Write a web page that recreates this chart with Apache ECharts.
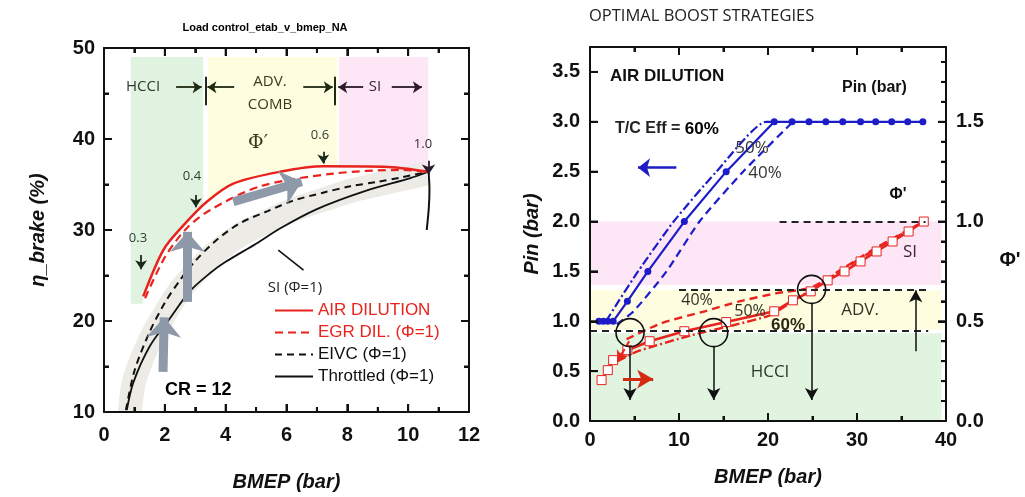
<!DOCTYPE html>
<html><head><meta charset="utf-8">
<script src="https://cdn.jsdelivr.net/npm/echarts@6/dist/echarts.min.js"></script>
<style>html,body{margin:0;padding:0;background:#fff}#c{width:1025px;height:497px}</style>
</head><body><div id="c"></div>
<script>
// ---------------- Left panel: brake efficiency vs BMEP ----------------
const airDilX = [1.29, 1.95, 2.61, 3.38, 4.25, 5.79, 7.21, 9.2, 10.67];
const airDilY = [22.7, 27.8, 30.5, 33.1, 35.1, 36.4, 37.0, 36.95, 36.4];
const egrX = [1.35, 2.0, 2.72, 3.49, 5.13, 7.54, 9.74, 10.67];
const egrY = [22.5, 27.0, 30.2, 32.2, 34.8, 36.2, 36.6, 36.4];
const eivcX = [0.72, 1.0, 1.5, 2.0, 2.5, 3.0, 3.7, 4.5, 5.4, 6.2, 7.2, 8.1, 9.0, 9.8, 10.67];
const eivcY = [10.2, 14.5, 18.8, 22.0, 24.5, 26.6, 28.9, 30.8, 32.1, 33.2, 34.1, 34.8, 35.3, 35.8, 36.4];
const thrX = [0.75, 0.96, 1.5, 2.17, 2.83, 3.5, 4.0, 5.0, 5.8, 7.0, 8.6, 10.07, 10.67];
const thrY = [10.2, 13.2, 17.2, 20.3, 23.3, 25.3, 26.5, 28.5, 30.2, 32.3, 34.3, 35.7, 36.4];
const siX = [10.67, 10.7, 10.68, 10.61];
const siY = [36.4, 34.5, 32.5, 30.0];
const bandX = [0.85, 1.0, 1.5, 2.0, 2.5, 3.0, 3.7, 4.5, 5.4, 6.2, 7.2, 8.1, 9.0, 9.8, 10.6];
const bandY = [10.0, 13.5, 17.8, 20.8, 23.4, 25.3, 27.6, 29.5, 31.0, 32.2, 33.3, 34.3, 35.0, 35.6, 36.2];
const leftLegend = ['AIR DILUTION', 'EGR DIL. (Φ=1)', 'EIVC (Φ=1)', 'Throttled (Φ=1)'];
const leftXTicks = [0, 12, 2];   // min, max, interval
const leftYTicks = [10, 50, 10];

// ---------------- Right panel: optimal boost strategies ----------------
const pinX60 = [1.0, 1.5, 2.0, 2.6, 4.2, 6.5, 10.6, 15.3, 20.7, 22.7, 24.6, 26.5, 28.4, 30.4, 32.1, 33.9, 35.7, 37.4];
const pin60  = [1.0, 1.0, 1.0, 1.0, 1.2, 1.5, 2.0, 2.5, 3.0, 3.0, 3.0, 3.0, 3.0, 3.0, 3.0, 3.0, 3.0, 3.0];
const pinX50 = [1.8, 3.2, 5.4, 9.4, 14.2, 19.8, 20.7];
const pin50  = [1.0, 1.2, 1.5, 2.0, 2.5, 3.0, 3.0];
const pinX40 = [3.0, 4.9, 8.6, 12.3, 17.2, 22.8];
const pin40  = [0.97, 1.1, 1.5, 2.0, 2.5, 3.0];
const phiX60 = [1.3, 2.0, 2.6, 4.2, 6.7, 10.6, 15.3, 20.7, 22.8, 24.8, 26.7, 28.6, 30.4, 32.2, 34.0, 35.8, 37.5];
const phi60  = [0.205, 0.255, 0.305, 0.355, 0.40, 0.45, 0.496, 0.55, 0.605, 0.65, 0.705, 0.75, 0.80, 0.85, 0.90, 0.95, 1.0];
const phiX50 = [3.1, 5.4, 11.4, 16.1, 20.2, 22.8, 24.9, 28.6, 32.2, 37.5];
const phi50  = [0.30, 0.35, 0.43, 0.48, 0.53, 0.60, 0.66, 0.765, 0.865, 1.0];
const phiX40 = [4.1, 8.0, 12.9, 16.8, 20.9, 24.9, 28.6, 32.2, 37.5];
const phi40  = [0.41, 0.49, 0.55, 0.60, 0.64, 0.67, 0.77, 0.87, 1.0];
const rightXTicks = [0, 40, 10];
const pinTicks = [0, 3.75, 0.5];
const phiTicks = [0, 1.875, 0.5];

const zip = (xs, ys) => xs.map((x, i) => [x, ys[i]]);
const RED = '#e8231e', BLUE = '#1c1cc8', GRAY_ARROW = '#8e99a9', INK = '#111';
const FONT = 'Liberation Sans';
const oneDec = v => v.toFixed(1);

function seg(x1, y1, x2, y2, color, width, type, head, headSize) {
  const ls = {color: color, width: width, type: type || 'solid'};
  return [{coord: [x1, y1], symbol: 'none', lineStyle: ls},
          {coord: [x2, y2], symbol: head ? 'arrow' : 'none', symbolSize: headSize || 10, lineStyle: Object.assign({}, ls)}];
}
function labelStyle(margin, showLabel, fmt) {
  const o = {show: showLabel, color: INK, fontFamily: FONT, fontWeight: 'bold', fontSize: 20, margin: margin};
  if (fmt) { o.formatter = fmt; o.showMaxLabel = false; }
  return o;
}
function axis(gridIndex, position, range, opts) {
  opts = opts || {};
  const a = {
    type: 'value', z: 20, gridIndex: gridIndex, position: position,
    min: range[0], max: range[1], interval: range[2],
    axisLine: {show: true, onZero: false, lineStyle: {color: INK, width: 2}},
    axisTick: {show: true, inside: true, length: 8, lineStyle: {color: INK, width: 2}},
    minorTick: {show: opts.minor !== 0, splitNumber: opts.minor || 2, length: 5, lineStyle: {color: INK, width: 2}},
    splitLine: {show: false}, minorSplitLine: {show: false},
    axisLabel: labelStyle(opts.margin || 10, !!opts.label, opts.fmt)
  };
  if (opts.name) {
    a.name = opts.name; a.nameLocation = 'middle'; a.nameGap = opts.nameGap;
    a.nameTextStyle = {color: INK, fontFamily: FONT, fontWeight: 'bold', fontStyle: 'italic', fontSize: 20};
  }
  return a;
}

// tick marks along the frame (dir 0 = along x, 1 = along y; side 1 = first, 2 = second, 3 = both)
function tickItems(dir, min, max, step, majorEvery, side) {
  const out = [];
  for (let k = 0; min + k * step <= max + 1e-9; k++) {
    const v = Math.round((min + k * step) * 1000) / 1000;
    out.push([dir, v, k % majorEvery === 0 ? 8 : 5, side]);
  }
  return out;
}
function tickSeries(xi, yi, xr, yr, items) {
  return {
    type: 'custom', xAxisIndex: xi, yAxisIndex: yi, silent: true, z: 30, clip: false,
    data: items,
    renderItem: function (params, api) {
      const dir = api.value(0), v = api.value(1), len = api.value(2), side = api.value(3);
      const ch = [];
      const st = {stroke: INK, lineWidth: 2};
      if (dir === 0) {
        const b = api.coord([v, yr[0]]), t = api.coord([v, yr[1]]);
        if (side & 1) ch.push({type: 'line', shape: {x1: b[0], y1: b[1], x2: b[0], y2: b[1] - len}, style: st});
        if (side & 2) ch.push({type: 'line', shape: {x1: t[0], y1: t[1], x2: t[0], y2: t[1] + len}, style: st});
      } else {
        const l = api.coord([xr[0], v]), r = api.coord([xr[1], v]);
        if (side & 1) ch.push({type: 'line', shape: {x1: l[0], y1: l[1], x2: l[0] + len, y2: l[1]}, style: st});
        if (side & 2) ch.push({type: 'line', shape: {x1: r[0], y1: r[1], x2: r[0] - len, y2: r[1]}, style: st});
      }
      return {type: 'group', children: ch};
    }
  };
}

function txt(x, y, text, size, opts) {
  opts = opts || {};
  return {
    type: 'text', x: x, y: y, z: 100, silent: true,
    style: {
      text: text, fontSize: size, fontFamily: opts.family || 'Open Sans',
      fontWeight: opts.weight || 'normal', fill: opts.color || '#222',
      align: opts.align || 'center', textAlign: opts.align || 'center',
      verticalAlign: 'middle', textVerticalAlign: 'middle'
    }
  };
}

const option = {
  animation: false,
  backgroundColor: '#fff',
  grid: [
    {left: 104, right: 556, top: 48, bottom: 85},
    {left: 590, right: 79, top: 47, bottom: 76}
  ],
  xAxis: [
    axis(0, 'bottom', leftXTicks, {label: true, margin: 13, name: 'BMEP (bar)', nameGap: 60}),
    axis(0, 'top', leftXTicks, {}),
    axis(1, 'bottom', rightXTicks, {label: true, margin: 9, name: 'BMEP (bar)', nameGap: 46}),
    axis(1, 'top', rightXTicks, {})
  ],
  yAxis: [
    axis(0, 'left', leftYTicks, {label: true, margin: 9, name: 'η_brake (%)', nameGap: 56}),
    axis(0, 'right', leftYTicks, {}),
    axis(1, 'left', pinTicks, {label: true, minor: 0, fmt: oneDec, name: 'Pin (bar)', nameGap: 48}),
    axis(1, 'right', phiTicks, {label: true, minor: 5, fmt: oneDec})
  ],
  legend: {
    data: [
      {name: leftLegend[0], textStyle: {color: RED}},
      {name: leftLegend[1], textStyle: {color: RED}},
      {name: leftLegend[2], textStyle: {color: INK}},
      {name: leftLegend[3], textStyle: {color: INK}}
    ],
    orient: 'vertical', left: 274, top: 302, itemWidth: 38, itemHeight: 12, itemGap: 5,
    selectedMode: false, padding: 0,
    itemStyle: {opacity: 0},
    textStyle: {fontFamily: FONT, fontSize: 17}
  },
  graphic: [
    txt(265, 28, 'Load control_etab_v_bmep_NA', 11, {family: FONT, weight: 'bold', color: '#000'}),
    txt(143, 87, 'HCCI', 15, {color: '#2c3a2c'}),
    txt(270, 82, 'ADV.', 15, {color: '#3a3a22'}),
    txt(270, 105, 'COMB', 15, {color: '#3a3a22'}),
    txt(375, 87, 'SI', 15, {color: '#3a263a'}),
    txt(258, 143, 'Φ′', 19, {family: 'DejaVu Serif', color: '#3a3a22'}),
    txt(320, 135, '0.6', 13, {color: '#2f3f2f'}),
    txt(423, 144, '1.0', 13, {color: '#3a2a3a'}),
    txt(192, 176, '0.4', 13, {color: '#2f3f2f'}),
    txt(138, 238, '0.3', 13, {color: '#2f3f2f'}),
    txt(295, 288, 'SI (Φ=1)', 15, {color: '#222'}),
    txt(165, 390, 'CR = 12', 18, {family: FONT, weight: 'bold', align: 'left', color: '#000'}),
    txt(589, 16, 'OPTIMAL BOOST STRATEGIES', 16.5, {align: 'left', color: '#222'}),
    txt(610, 76, 'AIR DILUTION', 17, {family: FONT, weight: 'bold', align: 'left', color: '#111'}),
    txt(842, 88, 'Pin (bar)', 16, {family: FONT, weight: 'bold', align: 'left', color: '#111'}),
    {type: 'text', x: 615, y: 129, z: 100, silent: true,
     style: {text: '{a|T/C Eff = }{b|60%}', align: 'left', textAlign: 'left', verticalAlign: 'middle', textVerticalAlign: 'middle',
       rich: {a: {fontFamily: FONT, fontWeight: 'bold', fontSize: 16, fill: '#222', color: '#222'},
              b: {fontFamily: FONT, fontWeight: 'bold', fontSize: 17, fill: '#000', color: '#000'}}}},
    txt(752, 148, '50%', 17, {color: '#333'}),
    txt(765, 173, '40%', 17, {color: '#333'}),
    txt(898, 195, "Φ'", 16, {family: FONT, weight: 'bold', color: '#111'}),
    txt(910, 252, 'SI', 17, {color: '#3a263a'}),
    txt(860, 310, 'ADV.', 17, {color: '#333322'}),
    txt(770, 372, 'HCCI', 17, {color: '#2c3a2c'}),
    txt(697, 300, '40%', 16, {color: '#333322'}),
    txt(750, 311, '50%', 16, {color: '#333322'}),
    txt(788, 325, '60%', 17, {family: FONT, weight: 'bold', color: '#2a2a14'}),
    txt(1010, 260, "Φ'", 20, {family: FONT, weight: 'bold', color: '#111'})
  ],
  series: [
    // ---- left panel ----
    {name: 'zonesL', type: 'line', xAxisIndex: 0, yAxisIndex: 0, data: [[0, 10]], symbol: 'none',
     lineStyle: {opacity: 0}, silent: true,
     markArea: {silent: true, label: {show: false}, data: [
       [{xAxis: 0.88, yAxis: 21.9, itemStyle: {color: '#dff3e0'}}, {xAxis: 3.26, yAxis: 49}],
       [{xAxis: 3.42, yAxis: 10, itemStyle: {color: '#fefde0'}}, {xAxis: 7.67, yAxis: 49}],
       [{xAxis: 7.73, yAxis: 10, itemStyle: {color: '#fde6f6'}}, {xAxis: 10.66, yAxis: 49}]
     ]}},
    {name: 'mask', type: 'line', xAxisIndex: 0, yAxisIndex: 0, data: zip(airDilX, airDilY), smooth: 0.3,
     symbol: 'none', lineStyle: {width: 0}, areaStyle: {color: '#fff', opacity: 1, origin: 'start'}, silent: true},
    {name: 'spread', type: 'line', xAxisIndex: 0, yAxisIndex: 0, data: zip(bandX, bandY), smooth: 0.3,
     symbol: 'none', lineStyle: {color: '#ecebe5', width: 24, cap: 'butt'}, silent: true},
    {name: leftLegend[3], type: 'line', xAxisIndex: 0, yAxisIndex: 0, data: zip(thrX, thrY), smooth: 0.3,
     symbol: 'none', color: INK, lineStyle: {color: INK, width: 1.8}},
    {name: leftLegend[2], type: 'line', xAxisIndex: 0, yAxisIndex: 0, data: zip(eivcX, eivcY), smooth: 0.3,
     symbol: 'none', color: INK, lineStyle: {color: INK, width: 2, type: [7, 5]}},
    {name: leftLegend[1], type: 'line', xAxisIndex: 0, yAxisIndex: 0, data: zip(egrX, egrY), smooth: 0.3,
     symbol: 'none', color: RED, lineStyle: {color: RED, width: 2.2, type: [8, 5]}},
    {name: leftLegend[0], type: 'line', xAxisIndex: 0, yAxisIndex: 0, data: zip(airDilX, airDilY), smooth: 0.3,
     symbol: 'none', color: RED, lineStyle: {color: RED, width: 2.5}},
    {name: 'siEnd', type: 'line', xAxisIndex: 0, yAxisIndex: 0, data: zip(siX, siY), smooth: 0.3,
     symbol: 'none', lineStyle: {color: INK, width: 2}, silent: true},
    {name: 'notesL', type: 'line', xAxisIndex: 0, yAxisIndex: 0, data: [[0, 10]], symbol: 'none',
     lineStyle: {opacity: 0}, silent: true,
     markLine: {silent: true, animation: false, label: {show: false}, symbol: ['none', 'none'], data: [
       seg(1.94, 14.4, 1.98, 20.4, GRAY_ARROW, 9, 'solid', true, [26, 20]),
       seg(2.74, 22.1, 2.74, 29.8, GRAY_ARROW, 9, 'solid', true, [26, 20]),
       seg(4.25, 33.1, 6.5, 35.3, GRAY_ARROW, 9, 'solid', true, [26, 20]),
       seg(2.37, 45.7, 3.21, 45.7, '#1f2a12', 1.8, 'solid', true, 9),
       seg(3.33, 46.85, 3.33, 43.7, '#1f2a12', 2, 'solid', false),
       seg(4.28, 45.7, 3.40, 45.7, '#1f2a12', 1.8, 'solid', true, 9),
       seg(6.55, 45.7, 7.52, 45.7, '#1f2a12', 1.8, 'solid', true, 9),
       seg(7.6, 46.85, 7.6, 43.7, '#1f2a12', 2, 'solid', false),
       seg(8.52, 45.7, 7.70, 45.7, '#2a1a2a', 1.8, 'solid', true, 9),
       seg(9.46, 45.7, 10.45, 45.7, '#2a1a2a', 1.8, 'solid', true, 9),
       seg(1.22, 27.25, 1.22, 25.7, '#1a2a1a', 1.8, 'solid', true, 9),
       seg(3.02, 33.85, 3.02, 32.5, '#1a2a1a', 1.8, 'solid', true, 9),
       seg(7.21, 38.6, 7.21, 37.3, '#1a2a1a', 1.8, 'solid', true, 9),
       seg(10.67, 37.6, 10.67, 36.1, '#2a1a2a', 1.8, 'solid', true, 10),
       seg(5.73, 27.8, 6.56, 25.6, INK, 1.6, 'solid', false)
     ]}},
    tickSeries(0, 0, leftXTicks, leftYTicks,
      tickItems(0, leftXTicks[0], leftXTicks[1], leftXTicks[2] / 2, 2, 3)
        .concat(tickItems(1, leftYTicks[0], leftYTicks[1], leftYTicks[2] / 2, 2, 3))),
    // ---- right panel ----
    {name: 'zonesR', type: 'line', xAxisIndex: 2, yAxisIndex: 2, data: [[0, 0]], symbol: 'none',
     lineStyle: {opacity: 0}, silent: true,
     markArea: {silent: true, label: {show: false}, data: [
       [{xAxis: 0, yAxis: 1.364, itemStyle: {color: '#fde6f6'}}, {xAxis: 39.5, yAxis: 2.0}],
       [{xAxis: 0, yAxis: 0.917, itemStyle: {color: '#fefde0'}}, {xAxis: 39.5, yAxis: 1.314}],
       [{xAxis: 0, yAxis: 0, itemStyle: {color: '#e0f4e0'}}, {xAxis: 39.5, yAxis: 0.88}]
     ]}},
    {name: 'Pin 40%', type: 'line', xAxisIndex: 2, yAxisIndex: 2, data: zip(pinX40, pin40), smooth: 0.2,
     symbol: 'none', lineStyle: {color: BLUE, width: 2.2, type: [8, 5]}},
    {name: 'Pin 50%', type: 'line', xAxisIndex: 2, yAxisIndex: 2, data: zip(pinX50, pin50), smooth: 0.2,
     symbol: 'none', lineStyle: {color: BLUE, width: 2.2, type: [9, 3, 2, 3]}},
    {name: 'Pin 60%', type: 'line', xAxisIndex: 2, yAxisIndex: 2, data: zip(pinX60, pin60), smooth: false,
     symbol: 'circle', symbolSize: 7, itemStyle: {color: BLUE}, lineStyle: {color: BLUE, width: 2.2},
     markLine: {silent: true, label: {show: false}, data: [seg(9.7, 2.54, 5.4, 2.54, BLUE, 2.5, 'solid', true, [14, 12])]}},
    {name: 'Phi 40%', type: 'line', xAxisIndex: 2, yAxisIndex: 3, data: zip(phiX40, phi40), smooth: 0.2,
     symbol: 'none', lineStyle: {color: RED, width: 2.4, type: [8, 5]}},
    {name: 'Phi 50%', type: 'line', xAxisIndex: 2, yAxisIndex: 3, data: zip(phiX50, phi50), smooth: 0.2,
     symbol: 'none', lineStyle: {color: RED, width: 2.4, type: [9, 3, 2, 3]}},
    {name: 'Phi 60%', type: 'line', xAxisIndex: 2, yAxisIndex: 3, data: zip(phiX60, phi60), smooth: false,
     symbol: 'rect', symbolSize: 9, itemStyle: {color: '#fff', borderColor: RED, borderWidth: 1},
     lineStyle: {color: RED, width: 2.6}},
    {name: 'notesR', type: 'line', xAxisIndex: 2, yAxisIndex: 3, data: [[0, 0]], symbol: 'none',
     lineStyle: {opacity: 0}, silent: true, z: 5,
     markLine: {silent: true, label: {show: false}, symbol: ['none', 'none'], data: [
       seg(21.3, 1.0, 37.7, 1.0, '#222', 1.8, [7, 5], false),
       seg(10.0, 0.658, 38.0, 0.658, '#222', 1.8, [7, 5], false),
       seg(0, 0.4535, 38.0, 0.4535, '#222', 1.8, [7, 5], false),
       seg(4.5, 0.373, 4.5, 0.105, INK, 1.5, 'solid', true, [10, 12]),
       seg(13.9, 0.373, 13.9, 0.105, INK, 1.5, 'solid', true, [10, 12]),
       seg(24.9, 0.59, 24.9, 0.105, INK, 1.5, 'solid', true, [10, 12]),
       seg(36.6, 0.35, 36.6, 0.655, INK, 1.5, 'solid', true, [10, 12]),
       seg(3.7, 0.21, 7.1, 0.21, '#d42a12', 3, 'solid', true, [14, 16]),
       seg(4.4, 0.40, 3.1, 0.30, RED, 2, [6, 3], true, [10, 10])
     ]},
     markPoint: {silent: true, symbol: 'circle', symbolSize: 28, label: {show: false},
       itemStyle: {color: 'rgba(0,0,0,0)', borderColor: INK, borderWidth: 1.6},
       data: [{coord: [4.5, 0.443]}, {coord: [13.9, 0.443]}, {coord: [24.9, 0.66]}]}},
    tickSeries(2, 2, rightXTicks, pinTicks,
      tickItems(0, rightXTicks[0], rightXTicks[1], rightXTicks[2] / 2, 2, 3)
        .concat(tickItems(1, pinTicks[0], 3.5, pinTicks[2], 1, 1))),
    tickSeries(2, 3, rightXTicks, phiTicks,
      tickItems(1, phiTicks[0], 1.8, phiTicks[2] / 5, 5, 2))
  ]
};
const chart = echarts.init(document.getElementById('c'));
chart.setOption(option);
</script></body></html>
